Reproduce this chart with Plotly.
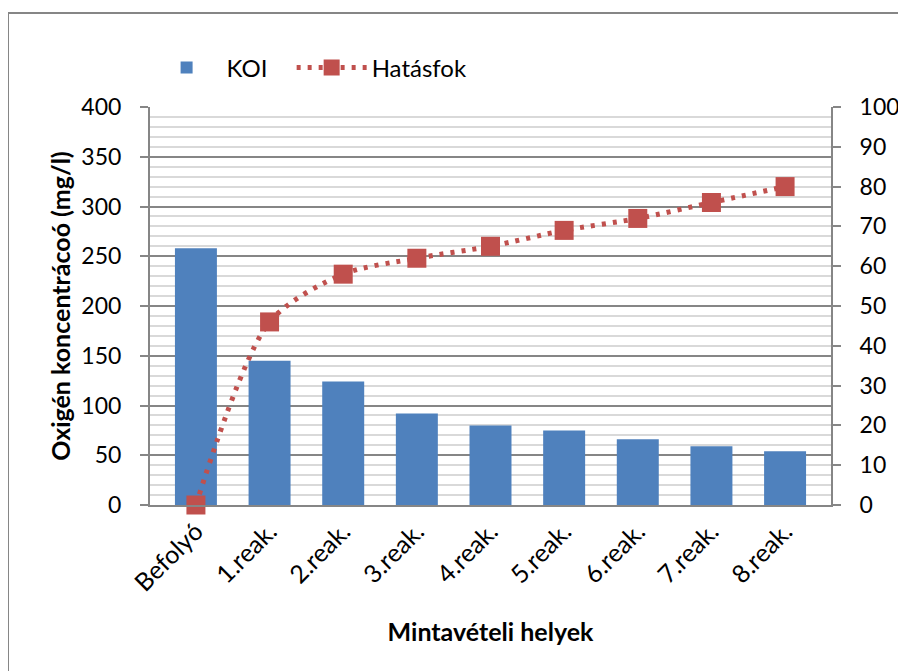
import plotly.graph_objects as go

categories = ["Befolyó", "1.reak.", "2.reak.", "3.reak.", "4.reak.", "5.reak.",
              "6.reak.", "7.reak.", "8.reak."]
koi = [258, 145, 124, 92, 80, 75, 66, 59, 54]
hatasfok = [0, 46, 58, 62, 65, 69, 72, 76, 80]

FONT = "Lato"
GRID_MAJOR = "#868686"
GRID_MINOR = "#D9D9D9"

# the page body adds an 8px margin, so the plot box is shifted back by 8px
OFF = 8
PL, PR, PT, PB = 150 - OFF, 831 - OFF, 107 - OFF, 505 - OFF
W, H = 906, 671
PW, PH = PR - PL, PB - PT

fig = go.Figure()

fig.add_trace(go.Bar(
    x=categories, y=koi, name="KOI", legend="legend",
    marker=dict(color="#4F81BD", line=dict(width=0)),
))

fig.add_trace(go.Scatter(
    x=categories, y=hatasfok, name="Hatásfok", yaxis="y2", legend="legend2",
    mode="lines+markers", cliponaxis=False,
    line=dict(color="#C0504D", width=5, dash="4px,7px", shape="spline", smoothing=0.8),
    marker=dict(symbol="square", size=19, color="#C0504D"),
))

leg_y = 1 + (PT - (68 - OFF)) / PH
leg_common = dict(orientation="h", xanchor="left", y=leg_y, yanchor="middle",
                  font=dict(size=24), itemwidth=70, bgcolor="rgba(0,0,0,0)")

fig.update_layout(
    width=W, height=H,
    margin=dict(l=PL, r=W - PR, t=PT, b=H - PB),
    paper_bgcolor="white", plot_bgcolor="white",
    font=dict(family=FONT, size=23, color="#000000"),
    bargap=0.43,
    showlegend=True,
    legend=dict(x=-0.005, **leg_common),
    legend2=dict(x=0.208, **leg_common),
    xaxis=dict(
        showline=True, linecolor=GRID_MAJOR, linewidth=2,
        ticks="", tickangle=-45, tickfont=dict(size=25),
        title=dict(text="<b>Mintavételi helyek</b>", font=dict(size=25), standoff=28),
    ),
    yaxis=dict(
        range=[0, 400], dtick=50,
        showline=True, linecolor=GRID_MAJOR, linewidth=2,
        ticks="outside", ticklen=8, tickcolor=GRID_MAJOR, tickwidth=2,
        ticklabelstandoff=14,
        showgrid=True, gridcolor=GRID_MAJOR, gridwidth=1.5,
        minor=dict(dtick=10, showgrid=True, gridcolor=GRID_MINOR, gridwidth=1.5),
        zeroline=False,
        title=dict(text="<b>Oxigén koncentrácoó (mg/l)</b>", font=dict(size=25), standoff=4),
    ),
    yaxis2=dict(
        range=[0, 100], dtick=10, overlaying="y", side="right",
        showline=True, linecolor=GRID_MAJOR, linewidth=2,
        ticks="outside", ticklen=8, tickcolor=GRID_MAJOR, tickwidth=2,
        ticklabelstandoff=14,
        showgrid=False, zeroline=False,
    ),
    shapes=[dict(
        type="rect", xref="paper", yref="paper",
        x0=(8 - OFF - PL) / PW, x1=1.4, y0=-0.6, y1=1 + (PT - (13 - OFF)) / PH,
        line=dict(color=GRID_MAJOR, width=2), fillcolor="rgba(0,0,0,0)", layer="below",
    )],
)

fig.write_html("out.html")
